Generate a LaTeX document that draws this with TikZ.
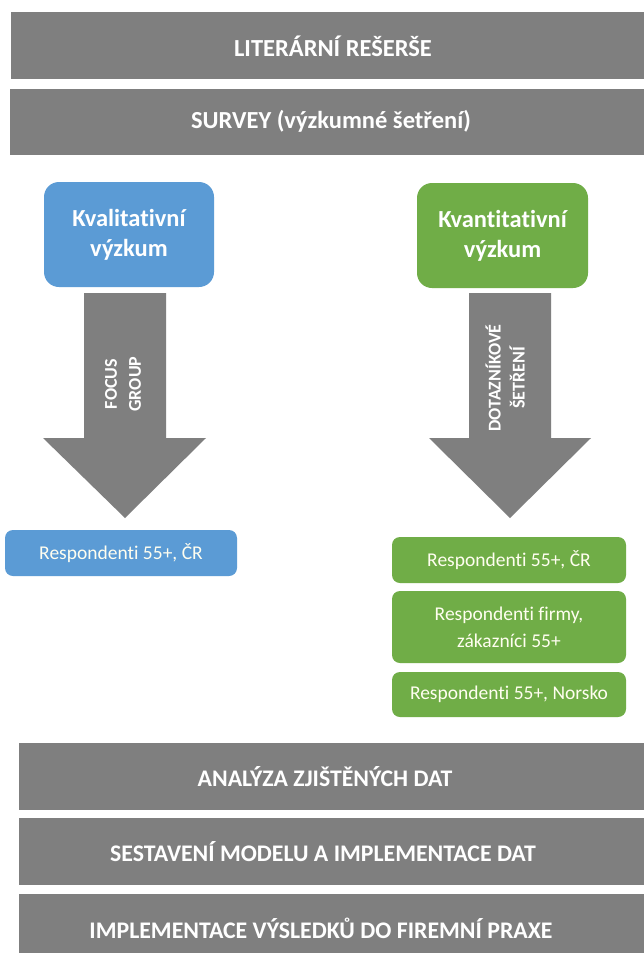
\documentclass[tikz,border=0pt]{standalone}
\usepackage{fontspec}
\setmainfont{Carlito}[Ligatures=NoCommon]
\definecolor{bargray}{HTML}{7F7F7F}
\definecolor{blueb}{HTML}{5B9BD5}
\definecolor{greenb}{HTML}{70AD47}
\begin{document}
\begin{tikzpicture}[x=1pt,y=-1pt,
  bar/.style={fill=bargray, inner sep=0pt},
  bartext/.style={text=white, inner sep=0pt, font=\bfseries\fontsize{24.5}{28}\selectfont},
  bartextb/.style={text=white, inner sep=0pt, font=\bfseries\fontsize{23.8}{28}\selectfont},
  headbox/.style={rounded corners=15pt, text=white, inner sep=0pt, align=center, font=\bfseries\fontsize{24.5}{30}\selectfont, minimum width=170pt, minimum height=105pt},
  respbox/.style={rounded corners=8pt, text=white!94!yellow, inner sep=0pt, align=center, font=\fontsize{19.5}{27}\selectfont},
  bigarrow/.style={fill=bargray},
  arrowlabel/.style={text=white, rotate=90, align=center, inner sep=0pt, font=\bfseries\fontsize{18}{24}\selectfont}
]
\useasboundingbox (0,0) rectangle (643,953);
\fill[white] (0,0) rectangle (643,953);

% top bars
\node[bar, minimum width=640pt, minimum height=67pt] (lit) at (331,45.5) {};
\node[bartext] (littext) at (333,46) {LITERÁRNÍ REŠERŠE};
\node[bar, minimum width=641pt, minimum height=66pt] (survey) at (330.5,122) {};
\node[bartext] (surveytext) at (331,121) {SURVEY (výzkumné šetření)};

% heading boxes
\node[headbox, fill=blueb] (kval) at (129,234.5) {Kvalitativní\\výzkum};
\node[headbox, fill=greenb, minimum width=171pt] (kvan) at (502.5,235.5) {Kvantitativní\\výzkum};

% arrows
\fill[bigarrow] (84,293) -- (166,293) -- (166,438) -- (206,438) -- (125,518) -- (43,438) -- (84,438) -- cycle;
\fill[bigarrow] (469,293) -- (551,293) -- (551,438) -- (591,438) -- (510,518) -- (429,438) -- (469,438) -- cycle;
\node[arrowlabel] (focus) at (123,384) {FOCUS\\GROUP};
\node[arrowlabel] (dotaz) at (505,378) {DOTAZNÍKOVÉ\\ŠETŘENÍ};

% respondent boxes
\node[respbox, fill=blueb, minimum width=232pt, minimum height=46pt] (rb1) at (121,553) {Respondenti 55+, ČR};
\node[respbox, fill=greenb, minimum width=234pt, minimum height=46pt] (rg1) at (509,560) {Respondenti 55+, ČR};
\node[respbox, fill=greenb, minimum width=234pt, minimum height=72pt] (rg2) at (509,627) {Respondenti firmy,\\zákazníci 55+};
\node[respbox, fill=greenb, minimum width=234pt, minimum height=45pt] (rg3) at (509,694.5) {Respondenti 55+, Norsko};

% bottom bars
\node[bar, minimum width=632pt, minimum height=67pt] (anal) at (335,776.5) {};
\node[bartextb] (analtext) at (325,776.5) {ANALÝZA ZJIŠTĚNÝCH DAT};
\node[bar, minimum width=632pt, minimum height=67pt] (model) at (335,851.5) {};
\node[bartextb] (modeltext) at (323,851.5) {SESTAVENÍ MODELU A IMPLEMENTACE DAT};
\node[bar, minimum width=632pt, minimum height=68pt] (impl) at (335,928) {};
\node[bartextb] (impltext) at (321,928) {IMPLEMENTACE VÝSLEDKŮ DO FIREMNÍ PRAXE};
\end{tikzpicture}
\end{document}
